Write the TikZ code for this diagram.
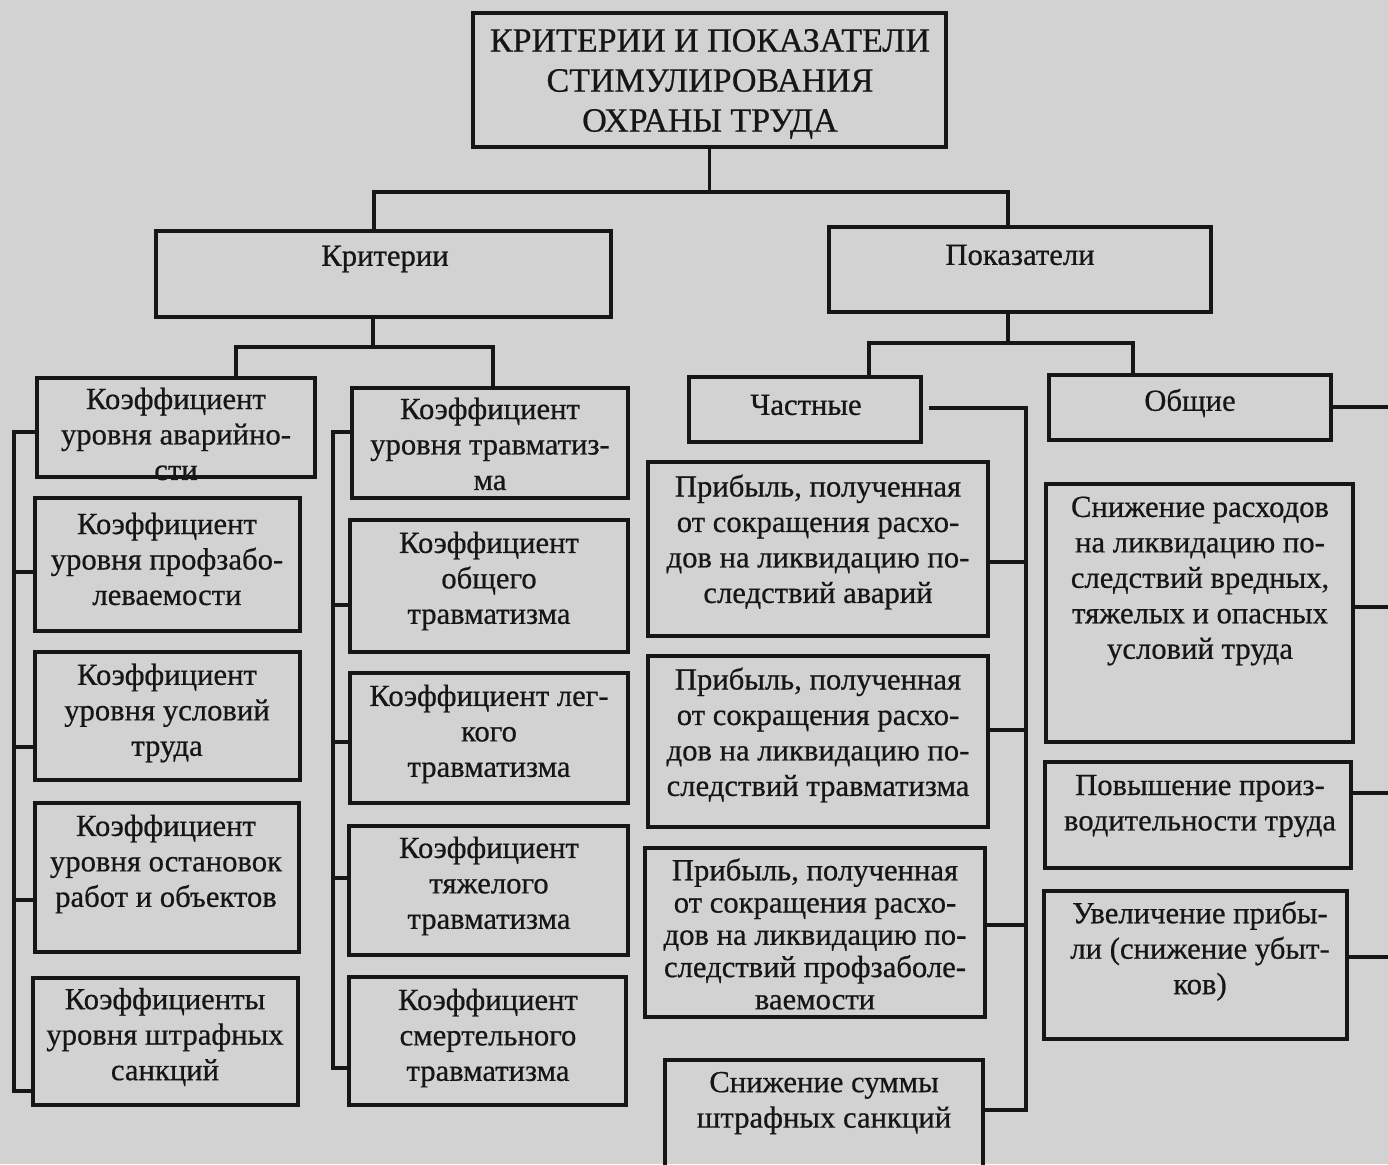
\documentclass[tikz,border=0pt]{standalone}
\usepackage{fontspec}
\setmainfont{Liberation Serif}[FakeBold=0.6]
\usetikzlibrary{fit}
\definecolor{paper}{RGB}{210,210,210}
\definecolor{ink}{RGB}{22,22,22}
\tikzset{every picture/.style={line width=2.3pt}}
\tikzset{
  card/.style={draw=ink, inner sep=0pt},
  txt/.style={align=center, text=ink, inner sep=0pt, font=\fontsize{23}{26.6}\selectfont},
  tighttxt/.style={txt, font=\fontsize{23}{24.2}\selectfont},
  titletxt/.style={txt, font=\fontsize{25.5}{30}\selectfont}
}

\begin{document}
\begin{tikzpicture}[x=0.75pt,y=0.75pt,yscale=-1,xscale=1]
\useasboundingbox (0,0) rectangle (1388,1164);
\fill [paper] (0,0) rectangle (1388,1164);

%top of the tree
\node [card, fit={(473,13) (946,147)}] (root) {};
\node [card, fit={(156,231) (611,317)}] (crit) {};
\node [card, fit={(829,227) (1211,312)}] (pok) {};

%criteria, left column
\node [card, fit={(37,378) (315,477)}] (a1) {};
\node [card, fit={(35,498) (300,631)}] (a2) {};
\node [card, fit={(35,652) (300,780)}] (a3) {};
\node [card, fit={(35,803) (299,952)}] (a4) {};
\node [card, fit={(33,978) (298,1105)}] (a5) {};

%criteria, right column
\node [card, fit={(352,388) (628,498)}] (b1) {};
\node [card, fit={(350,520) (628,652)}] (b2) {};
\node [card, fit={(350,673) (628,803)}] (b3) {};
\node [card, fit={(349,826) (628,955)}] (b4) {};
\node [card, fit={(349,977) (626,1105)}] (b5) {};

%indicators
\node [card, fit={(689,377) (921,442)}] (chast) {};
\node [card, fit={(1049,375) (1331,440)}] (obsh) {};
\node [card, fit={(648,462) (988,636)}] (p1) {};
\node [card, fit={(648,656) (988,827)}] (p2) {};
\node [card, fit={(645,848) (985,1017)}] (p3) {};
\node [card, fit={(665,1060) (983,1190)}] (p4) {};
\node [card, fit={(1046,484) (1353,742)}] (q1) {};
\node [card, fit={(1045,762) (1351,868)}] (q2) {};
\node [card, fit={(1044,891) (1347,1039)}] (q3) {};

%connectors
\draw [ink] (root.south) -- (709.5,192);
\draw [ink] (crit.north -| 374,0) -- (374,192) -- (1008,192) -- (pok.north -| 1008,0);
\draw [ink] (crit.south -| 373,0) -- (373,347);
\draw [ink] (a1.north -| 236,0) -- (236,347) -- (493,347) -- (b1.north -| 493,0);
\draw [ink] (pok.south -| 1008,0) -- (1008,343);
\draw [ink] (chast.north -| 869,0) -- (869,343) -- (1133,343) -- (obsh.north -| 1133,0);

\draw [ink] (a1.west |- 0,432) -- (14,432) -- (14,1091) -- (a5.west |- 0,1091);
\draw [ink] (14,572) -- (a2.west |- 0,572);
\draw [ink] (14,747) -- (a3.west |- 0,747);
\draw [ink] (14,900) -- (a4.west |- 0,900);

\draw [ink] (b1.west |- 0,432) -- (333,432) -- (333,1068) -- (b5.west |- 0,1068);
\draw [ink] (333,605) -- (b2.west |- 0,605);
\draw [ink] (333,742) -- (b3.west |- 0,742);
\draw [ink] (333,878) -- (b4.west |- 0,878);

\draw [ink] ([xshift=4.5pt]chast.east |- 0,408) -- (1026,408) -- (1026,1110) -- (p4.east |- 0,1110);
\draw [ink] (1026,562) -- (p1.east |- 0,562);
\draw [ink] (1026,730) -- (p2.east |- 0,730);
\draw [ink] (1026,925) -- (p3.east |- 0,925);

\draw [ink] (obsh.east |- 0,407) -- (1400,407) -- (1400,957) -- (q3.east |- 0,957);
\draw [ink] (1400,607) -- (q1.east |- 0,607);
\draw [ink] (1400,793) -- (q2.east |- 0,793);

%texts
\node [titletxt] (roott) at (710,84) {КРИТЕРИИ И ПОКАЗАТЕЛИ\\СТИМУЛИРОВАНИЯ\\ОХРАНЫ ТРУДА};
\node [txt] (critt) at (385,259) {Критерии};
\node [txt] (pokt) at (1020,255) {Показатели};
\node [txt] (a1t) at (176,434) {Коэффициент\\уровня аварийно-\\сти};
\node [txt] (a2t) at (167,559) {Коэффициент\\уровня профзабо-\\леваемости};
\node [txt] (a3t) at (167,713) {Коэффициент\\уровня условий\\труда};
\node [txt] (a4t) at (166,864) {Коэффициент\\уровня остановок\\работ и объектов};
\node [txt] (a5t) at (165,1037) {Коэффициенты\\уровня штрафных\\санкций};
\node [txt] (b1t) at (490,444) {Коэффициент\\уровня травматиз-\\ма};
\node [txt] (b2t) at (489,581) {Коэффициент\\общего\\травматизма};
\node [txt] (b3t) at (489,734) {Коэффициент лег-\\кого\\травматизма};
\node [txt] (b4t) at (489,886) {Коэффициент\\тяжелого\\травматизма};
\node [txt] (b5t) at (488,1038) {Коэффициент\\смертельного\\травматизма};
\node [txt] (chastt) at (806,405) {Частные};
\node [txt] (obsht) at (1190,403) {Общие};
\node [txt] (p1t) at (818,542) {Прибыль, полученная\\от сокращения расхо-\\дов на ликвидацию по-\\следствий аварий};
\node [txt] (p2t) at (818,735) {Прибыль, полученная\\от сокращения расхо-\\дов на ликвидацию по-\\следствий травматизма};
\node [tighttxt] (p3t) at (815,934) {Прибыль, полученная\\от сокращения расхо-\\дов на ликвидацию по-\\следствий профзаболе-\\ваемости};
\node [txt] (p4t) at (824,1103) {Снижение суммы\\штрафных санкций};
\node [txt] (q1t) at (1200,581) {Снижение расходов\\на ликвидацию по-\\следствий вредных,\\тяжелых и опасных\\условий труда};
\node [txt] (q2t) at (1200,806) {Повышение произ-\\водительности труда};
\node [txt] (q3t) at (1200,951) {Увеличение прибы-\\ли (снижение убыт-\\ков)};

\end{tikzpicture}
\end{document}
